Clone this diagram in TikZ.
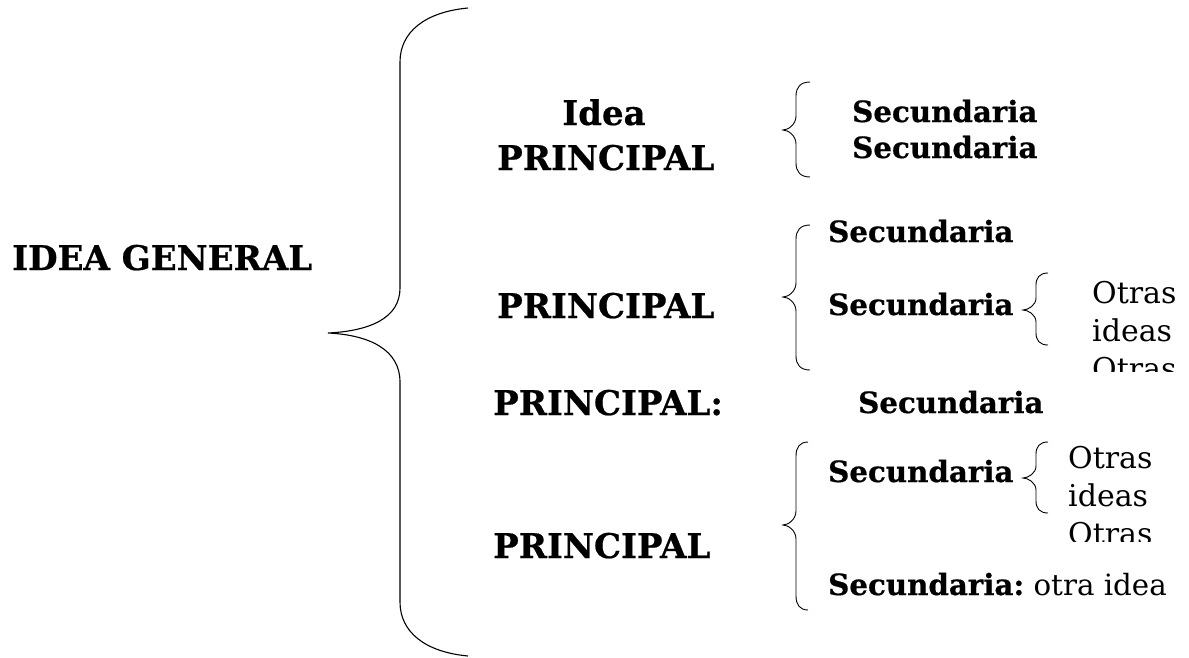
\documentclass[tikz,border=0pt]{standalone}
\usepackage{fontspec}
\setmainfont{DejaVu Serif}[BoldFeatures={FakeBold=0.6}]
\newcommand\mybrc[7]{% xend, xvert, xtip, ytop, ymid, ybot, curl
  \draw[brc] (#1,#4) .. controls ({#2+0.3*(#1-#2)},#4) and (#2,{#4+0.4*#7}) .. (#2,{#4+#7})
    -- (#2,{#5-#7}) .. controls (#2,{#5-0.4*#7}) and ({#3+0.4*(#2-#3)},#5) .. (#3,#5)
    .. controls ({#3+0.4*(#2-#3)},#5) and (#2,{#5+0.4*#7}) .. (#2,{#5+#7})
    -- (#2,{#6-#7}) .. controls (#2,{#6-0.4*#7}) and ({#2+0.3*(#1-#2)},#6) .. (#1,#6);}
\begin{document}
\begin{tikzpicture}[x=1pt,y=-1pt]
\tikzset{
  big/.style={font=\fontsize{34}{40}\selectfont\bfseries, inner sep=0pt, anchor=base west},
  sec/.style={font=\fontsize{29.3}{34}\selectfont\bfseries, inner sep=0pt, anchor=base west},
  otr/.style={font=\fontsize{30}{34}\selectfont, inner sep=0pt, anchor=base west},
  brc/.style={draw=black, line width=0.9pt}
}
\useasboundingbox (0,0) rectangle (1189,657);
% big brace
\draw[brc, line width=1.1pt] (468,8) .. controls (425,12) and (400,32) .. (400,62)
  -- (400,288) .. controls (400,318) and (370,331) .. (328,333)
  .. controls (370,335) and (400,350) .. (400,382)
  -- (400,602) .. controls (400,632) and (425,652) .. (468,656);
\node[big] (gen) at (12,270) {IDEA GENERAL};
\node[big, anchor=base] (idea) at (604,125) {Idea};
\node[big] (p1) at (497,170) {PRINCIPAL};
\node[big] (p2) at (497,318) {PRINCIPAL};
\node[big] (p3) at (493,415) {PRINCIPAL:};
\node[big] (p4) at (493,558) {PRINCIPAL};
% group 1
\mybrc{810}{796}{783}{82}{130}{177}{14}
\node[sec] (s1a) at (852,122) {Secundaria};
\node[sec] (s1b) at (852,158) {Secundaria};
% group 2
\mybrc{810}{796}{783}{225}{297}{370}{14}
\node[sec] (s2a) at (828,242) {Secundaria};
\node[sec] (s2b) at (828,315) {Secundaria};
\mybrc{1048}{1036}{1023}{273}{310}{345}{12}
\begin{scope}
  \clip (1060,260) rectangle (1189,371);
  \node[otr] (o1a) at (1092,303) {Otras};
  \node[otr] (o1b) at (1092,341) {ideas};
  \node[otr] (o1c) at (1092,379) {Otras};
\end{scope}
% group 3
\node[sec] (s3) at (858,413) {Secundaria};
% group 4
\mybrc{808}{796}{783}{442}{525}{610}{14}
\node[sec] (s4a) at (828,482) {Secundaria};
\mybrc{1048}{1036}{1023}{442}{478}{513}{12}
\begin{scope}
  \clip (1055,430) rectangle (1189,541);
  \node[otr] (o2a) at (1068,468) {Otras};
  \node[otr] (o2b) at (1068,506) {ideas};
  \node[otr] (o2c) at (1068,544) {Otras};
\end{scope}
\node[sec] (s4b) at (828,595) {Secundaria:\mdseries\ otra idea};
\end{tikzpicture}
\end{document}
